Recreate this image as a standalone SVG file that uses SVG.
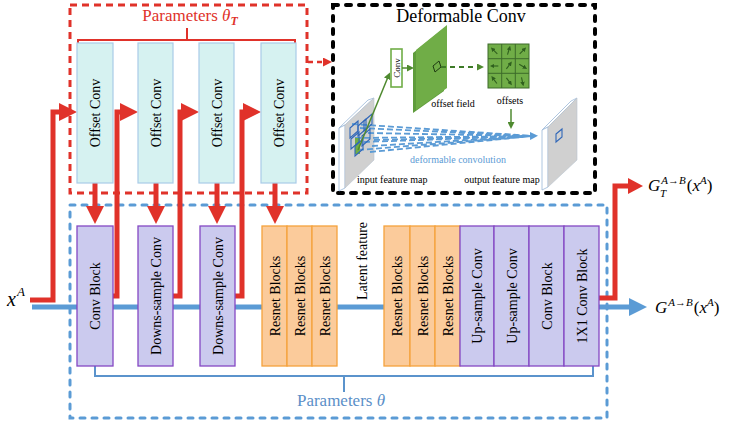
<svg xmlns="http://www.w3.org/2000/svg" width="735" height="424" viewBox="0 0 735 424">
<style>
text{font-family:"Liberation Serif","Times New Roman",serif;fill:#000}
.blk{font-size:14px;text-anchor:middle}
.off{fill:#d6f2f1;stroke:#a9cbe8;stroke-width:1.2}
.pur{fill:#cbcaee;stroke:#8448c4;stroke-width:1.3}
.org{fill:#fbcb9b;stroke:#f5a23c;stroke-width:1.3}
.red{fill:none;stroke:#e0322a;stroke-width:5}
.dash-r{fill:none;stroke:#e0322a;stroke-width:3;stroke-dasharray:7 5}
.dash-k{fill:none;stroke:#000;stroke-width:4;stroke-dasharray:5 8;stroke-linecap:round}
.dash-b{fill:none;stroke:#5b9bd5;stroke-width:3;stroke-dasharray:5 7;stroke-linecap:round}
.brk-r{fill:none;stroke:#e0322a;stroke-width:2}
.brk-b{fill:none;stroke:#5b93cc;stroke-width:2}
.math{font-style:italic}
.up{font-style:normal}
.small{font-size:10px}
.gline{fill:none;stroke:#4f8a30;stroke-width:1.5}
.tiny{fill:none;stroke:#2f5f1e;stroke-width:1.1}
.bdash{fill:none;stroke:#5b9bd5;stroke-width:1.8;stroke-dasharray:6 3}
.bsq{fill:none;stroke:#2f66b8;stroke-width:1.1}
</style>
<defs>
  <marker id="ah-red" markerUnits="userSpaceOnUse" viewBox="0 0 18 18" markerWidth="18" markerHeight="18" refX="8" refY="9" orient="auto"><path d="M0,0 L18,9 L0,18 Z" fill="#e0322a"/></marker>
  <marker id="ah-red-out" markerUnits="userSpaceOnUse" viewBox="0 0 15 16" markerWidth="15" markerHeight="16" refX="5" refY="8" orient="auto"><path d="M0,0 L15,8 L0,16 Z" fill="#e0322a"/></marker>
  <marker id="ah-red-s" markerUnits="userSpaceOnUse" viewBox="0 0 9 9" markerWidth="9" markerHeight="9" refX="1" refY="4.5" orient="auto"><path d="M0,0 L9,4.5 L0,9 Z" fill="#e0322a"/></marker>
  <marker id="ah-blue" markerUnits="userSpaceOnUse" viewBox="0 0 18 18" markerWidth="18" markerHeight="18" refX="8" refY="9" orient="auto"><path d="M0,0 L18,9 L0,18 Z" fill="#5b9bd5"/></marker>
  <marker id="ah-blue-s" markerUnits="userSpaceOnUse" viewBox="0 0 8 8" markerWidth="8" markerHeight="8" refX="2" refY="4" orient="auto"><path d="M0,0 L8,4 L0,8 Z" fill="#5b9bd5"/></marker>
  <marker id="ah-green" markerUnits="userSpaceOnUse" viewBox="0 0 7 7" markerWidth="7" markerHeight="7" refX="2" refY="3.5" orient="auto"><path d="M0,0 L7,3.5 L0,7 Z" fill="#4f8a30"/></marker>
  <marker id="ah-tiny" markerUnits="userSpaceOnUse" viewBox="0 0 4 4" markerWidth="4.5" markerHeight="4.5" refX="1" refY="2" orient="auto"><path d="M0,0 L4,2 L0,4 Z" fill="#2f5f1e"/></marker>
</defs>

<!-- group frames -->
<rect class="dash-r" x="70" y="5" width="237" height="188"/>
<rect class="dash-k" x="333" y="5" width="262" height="188"/>
<rect class="dash-b" x="70" y="205" width="537" height="213"/>

<!-- brackets and group labels -->
<path class="brk-r" d="M78,45 V40 H295 V45 M187,40 V28"/>
<text x="190" y="21" text-anchor="middle" font-size="17" style="fill:#e0322a">Parameters <tspan font-style="italic">θ</tspan><tspan font-style="italic" font-weight="bold" font-size="12" dy="4">T</tspan></text>
<path class="brk-b" d="M95,366 V376 H593 V366 M344,376 V392"/>
<text x="341" y="406" text-anchor="middle" font-size="17" style="fill:#5b8fc8">Parameters <tspan font-style="italic">θ</tspan></text>

<!-- connectors -->
<g id="connectors">
  <path d="M32,307 H637" fill="none" stroke="#5b9bd5" stroke-width="5" marker-end="url(#ah-blue)"/>
  <path class="red" d="M30,300 H53 V112 H67" marker-end="url(#ah-red)"/>
  <path class="red" d="M113,296 H117 V112 H128" marker-end="url(#ah-red)"/>
  <path class="red" d="M173,296 H180 V112 H189" marker-end="url(#ah-red)"/>
  <path class="red" d="M235,296 H242 V112 H251" marker-end="url(#ah-red)"/>
  <path class="red" d="M95,183 V214" marker-end="url(#ah-red)"/>
  <path class="red" d="M156,183 V214" marker-end="url(#ah-red)"/>
  <path class="red" d="M217,183 V214" marker-end="url(#ah-red)"/>
  <path class="red" d="M275,183 V214" marker-end="url(#ah-red)"/>
  <path class="red" d="M599,298 H615 V186 H633" marker-end="url(#ah-red-out)"/>
  <path d="M308,62 H324" fill="none" stroke="#e0322a" stroke-width="2.5" stroke-dasharray="5 4" marker-end="url(#ah-red-s)"/>
</g>

<!-- offset convolutions -->
<g id="offset-conv-1"><rect class="off" x="77" y="43" width="36" height="140"/><text class="blk" transform="translate(95 113) rotate(-90)" dy="5">Offset Conv</text></g>
<g id="offset-conv-2"><rect class="off" x="138" y="43" width="35" height="140"/><text class="blk" transform="translate(155.5 113) rotate(-90)" dy="5">Offset Conv</text></g>
<g id="offset-conv-3"><rect class="off" x="199" y="43" width="35" height="140"/><text class="blk" transform="translate(216.5 113) rotate(-90)" dy="5">Offset Conv</text></g>
<g id="offset-conv-4"><rect class="off" x="261" y="43" width="35" height="140"/><text class="blk" transform="translate(278.5 113) rotate(-90)" dy="5">Offset Conv</text></g>

<!-- generator blocks -->
<g id="conv-block-in"><rect class="pur" x="77" y="226" width="36" height="140"/><text class="blk" transform="translate(95 296) rotate(-90)" dy="5">Conv Block</text></g>
<g id="down-1"><rect class="pur" x="138" y="226" width="35" height="140"/><text class="blk" transform="translate(155.5 296) rotate(-90)" dy="5">Downs-sample Conv</text></g>
<g id="down-2"><rect class="pur" x="200" y="226" width="35" height="140"/><text class="blk" transform="translate(217.5 296) rotate(-90)" dy="5">Downs-sample Conv</text></g>
<g id="res-1"><rect class="org" x="262" y="226" width="25" height="140"/><text class="blk" transform="translate(274.5 296) rotate(-90)" dy="5">Resnet Blocks</text></g>
<g id="res-2"><rect class="org" x="287" y="226" width="25" height="140"/><text class="blk" transform="translate(299.5 296) rotate(-90)" dy="5">Resnet Blocks</text></g>
<g id="res-3"><rect class="org" x="312" y="226" width="25" height="140"/><text class="blk" transform="translate(324.5 296) rotate(-90)" dy="5">Resnet Blocks</text></g>
<g id="latent"><text class="blk" transform="translate(362 261) rotate(-90)" dy="5">Latent feature</text></g>
<g id="res-4"><rect class="org" x="384" y="226" width="26" height="140"/><text class="blk" transform="translate(397 296) rotate(-90)" dy="5">Resnet Blocks</text></g>
<g id="res-5"><rect class="org" x="410" y="226" width="25" height="140"/><text class="blk" transform="translate(422.5 296) rotate(-90)" dy="5">Resnet Blocks</text></g>
<g id="res-6"><rect class="org" x="435" y="226" width="25" height="140"/><text class="blk" transform="translate(447.5 296) rotate(-90)" dy="5">Resnet Blocks</text></g>
<g id="up-1"><rect class="pur" x="460" y="226" width="34" height="140"/><text class="blk" transform="translate(477 296) rotate(-90)" dy="5">Up-sample Conv</text></g>
<g id="up-2"><rect class="pur" x="494" y="226" width="35" height="140"/><text class="blk" transform="translate(511.5 296) rotate(-90)" dy="5">Up-sample Conv</text></g>
<g id="conv-block-out"><rect class="pur" x="529" y="226" width="35" height="140"/><text class="blk" transform="translate(546.5 296) rotate(-90)" dy="5">Conv Block</text></g>
<g id="conv-1x1"><rect class="pur" x="564" y="226" width="35" height="140"/><text class="blk" transform="translate(581.5 296) rotate(-90)" dy="5">1X1 Conv Block</text></g>

<!-- inputs and outputs -->
<g id="input-x"><text x="7" y="306" font-size="20" class="math">x<tspan font-size="13" dy="-10" dx="1">A</tspan></text></g>
<g id="output-g"><text x="655" y="313" font-size="17" class="math">G<tspan font-size="11" dy="-7" dx="1">A→B</tspan><tspan class="up" dy="7" dx="1">(</tspan>x<tspan font-size="11" dy="-7">A</tspan><tspan class="up" dy="7">)</tspan></text></g>
<g id="output-gt"><text x="648" y="191" font-size="17" class="math">G<tspan font-size="11" dy="-7" dx="1">A→B</tspan><tspan class="up" dy="7" dx="1">(</tspan>x<tspan font-size="11" dy="-7">A</tspan><tspan class="up" dy="7">)</tspan></text><text x="660" y="197" font-size="11" class="math">T</text></g>

<!-- deformable convolution illustration -->
<g id="deformable-conv">
  <text x="461" y="22" font-size="18" text-anchor="middle">Deformable Conv</text>
  <!-- input feature map -->
  <polygon points="339,128 368,100 374,98 345,125" fill="#fff" stroke="#9bb8d8" stroke-width="0.8"/>
  <polygon points="339,128 345,125 345,188 339,191" fill="#fff" stroke="#9bb8d8" stroke-width="0.8"/>
  <polygon points="345,125 374,98 374,160 345,188" fill="#d0d0d0" stroke="#b8c4d0" stroke-width="0.6"/>
  <!-- output feature map -->
  <polygon points="542,130 571,101 577,98 548,127" fill="#fff" stroke="#9bb8d8" stroke-width="0.8"/>
  <polygon points="542,130 548,127 548,187 542,190" fill="#fff" stroke="#9bb8d8" stroke-width="0.8"/>
  <polygon points="548,127 577,98 577,160 548,187" fill="#d0d0d0" stroke="#b8c4d0" stroke-width="0.6"/>
  <polygon class="bsq" points="556,134 562,129 562,137 556,142" stroke-width="1.3"/>
  <!-- sampling lines -->
  <path class="bdash" d="M352,124 L533,136 M360,128 L533,136 M368,133 L533,136 M355,138 L533,136 M364,142 L533,136 M372,146 L533,136 M358,150 L533,136 M370,152 L533,136"/>
  <path class="bdash" d="M374,140 L532,136" marker-end="url(#ah-blue-s)"/>
  <!-- sampled positions -->
  <rect x="355" y="138" width="5" height="16" fill="#70ad47"/>
  <polygon class="bsq" points="350,128 358,121 358,131 350,138"/>
  <polygon class="bsq" points="358,126 366,119 366,129 358,136"/>
  <polygon class="bsq" points="351,139 359,132 359,142 351,149"/>
  <polygon class="bsq" points="362,136 370,129 370,139 362,146"/>
  <polygon class="bsq" points="355,146 363,139 363,149 355,156"/>
  <polygon class="bsq" points="364,121 372,114 372,124 364,131"/>
  <path class="gline" d="M358,150 L388,77" marker-end="url(#ah-green)"/>
  <!-- conv -->
  <rect x="391" y="49" width="11" height="38" fill="#fff" stroke="#70ad47" stroke-width="1.6"/>
  <text transform="translate(396.5 68) rotate(-90)" font-size="9" text-anchor="middle" dy="3">Conv</text>
  <path class="gline" d="M402,68 H409" marker-end="url(#ah-green)"/>
  <!-- offset field -->
  <polygon points="413,53 444,28 444,91 413,113" fill="#5f9c3c"/>
  <polygon points="416,50 447,25 447,88 416,110" fill="#70ad47"/>
  <polygon points="433,66 439,61 441,67 435,72" fill="none" stroke="#1f3a12" stroke-width="1"/>
  <path d="M441,67 H479" fill="none" stroke="#3d7a27" stroke-width="1.8" stroke-dasharray="5 4" marker-end="url(#ah-green)"/>
  <text x="453" y="107" class="small" text-anchor="middle">offset field</text>
  <!-- offsets grid -->
  <rect x="488" y="44" width="41" height="44" fill="#70ad47" stroke="#3d6b2a" stroke-width="1"/>
  <path d="M501.7,44 V88 M515.3,44 V88 M488,58.7 H529 M488,73.3 H529" stroke="#3d6b2a" stroke-width="1" fill="none"/>
  <g marker-end="url(#ah-tiny)">
    <path class="tiny" d="M497.3,53.8 L493.3,49.8"/>
    <path class="tiny" d="M507.5,54.7 L509.2,49"/>
    <path class="tiny" d="M519.7,53.8 L523.7,49.8"/>
    <path class="tiny" d="M498.3,66 L493.3,66"/>
    <path class="tiny" d="M506.4,68.8 L509.8,64.3"/>
    <path class="tiny" d="M519.2,64.3 L524.2,67.2"/>
    <path class="tiny" d="M496.9,83.5 L493.4,78.8"/>
    <path class="tiny" d="M506.4,77.9 L509.9,82.6"/>
    <path class="tiny" d="M521.5,77.3 L522.7,83"/>
  </g>
  <text x="510" y="104" class="small" text-anchor="middle">offsets</text>
  <path class="gline" d="M511,109 V124" marker-end="url(#ah-green)"/>
  <text x="458" y="163" class="small" text-anchor="middle" style="fill:#5b9bd5">deformable convolution</text>
  <text x="357" y="183" class="small">input feature map</text>
  <text x="502" y="183" class="small" text-anchor="middle">output feature map</text>
</g>
</svg>
